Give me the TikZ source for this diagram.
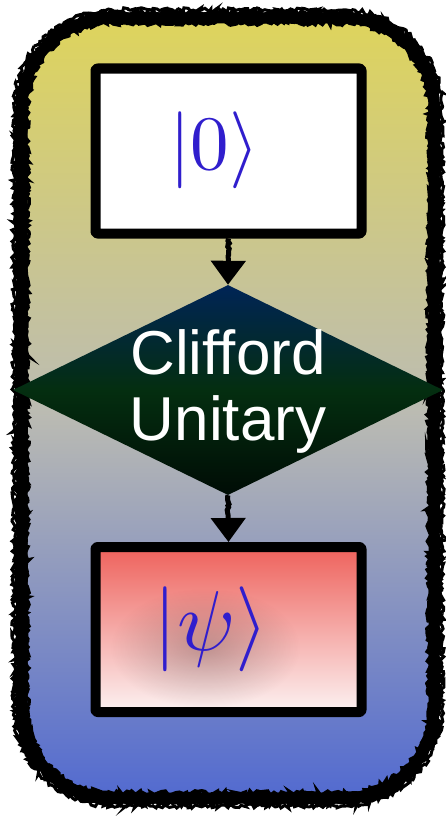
\documentclass[tikz,border=0pt]{standalone}
\usepackage{fontspec}
\setsansfont{Liberation Sans}
\usetikzlibrary{shapes.geometric,arrows.meta,decorations.pathmorphing,fadings}
\definecolor{bgtop}{RGB}{222,212,92}
\definecolor{bgmid}{RGB}{188,188,178}
\definecolor{bgbot}{RGB}{82,106,208}
\definecolor{dmtop}{RGB}{0,36,86}
\definecolor{dmmid}{RGB}{4,46,16}
\definecolor{dmbot}{RGB}{0,12,5}
\definecolor{pstop}{RGB}{238,98,92}
\definecolor{psbot}{RGB}{252,242,242}
\definecolor{ketblue}{RGB}{48,30,205}
\tikzfading[name=softspot,inner color=transparent!0,outer color=transparent!100]
\newcommand\panelpath[1]{(112,18+#1) -- (344,18+#1)
  .. controls (393.7-0.45*#1,18+#1) and (434-#1,58.3+0.45*#1) .. (434-#1,108)
  -- (434-#1,708)
  .. controls (434-#1,757.7-0.45*#1) and (393.7-0.45*#1,798-#1) .. (344,798-#1)
  -- (112,798-#1)
  .. controls (62.3+0.45*#1,798-#1) and (22+#1,757.7-0.45*#1) .. (22+#1,708)
  -- (22+#1,108)
  .. controls (22+#1,58.3+0.45*#1) and (62.3+0.45*#1,18+#1) .. (112,18+#1) -- cycle}
\begin{document}
\begin{tikzpicture}[x=1pt,y=-1pt,
  rough/.style={decorate,decoration={random steps,segment length=2.5pt,amplitude=2.2pt}},
  statebox/.style={draw=black,line width=10pt,line join=round,rounded corners=2pt,
    minimum width=266pt,minimum height=165pt,inner sep=0pt,text=ketblue},
  gate/.style={diamond,draw=none,inner sep=0pt,minimum width=430pt,minimum height=210pt,
    top color=dmtop,bottom color=dmbot,middle color=dmmid},
  gatetext/.style={text=white,align=center,font=\sffamily\fontsize{62}{66}\selectfont},
  flow/.style={line width=5pt,black,-{Triangle[width=34pt,length=24pt]},
    decorate,decoration={random steps,segment length=2pt,amplitude=1pt,post=lineto,post length=26pt}}
]
\useasboundingbox (0,0) rectangle (446,816);
\fill[white] (0,0) rectangle (446,816);
% background panel
\shade[top color=bgtop,bottom color=bgbot,middle color=bgmid] \panelpath{0};
\draw[line width=11pt] \panelpath{0};
\pgfmathsetseed{3}
\draw[rough,line width=4pt] \panelpath{-5};
\draw[rough,line width=3.5pt] \panelpath{5};
\draw[rough,line width=3pt] \panelpath{-8};

% nodes
\node[statebox,fill=white] (zero) at (228.5,151) {};
\node[text=ketblue] (zerol) at ([xshift=-14pt,yshift=1pt]zero.center) {\scalebox{7.7}{$|0\rangle$}};
\node[gate] (cliff) at (228,390) {};
\node[gatetext] (cliffl) at (228,391) {Clifford\\Unitary};
\node[statebox,top color=pstop,bottom color=psbot] (psi) at (228.5,629.5) {};
\fill[black,fill opacity=0.22,path fading=softspot]
  (205,648) ellipse (95pt and 60pt);
\node[text=ketblue] (psil) at ([xshift=-17pt]psi.center) {\scalebox{8.5}{$|\psi\rangle$}};

% connectors
\draw[flow] (zero.south) -- (cliff.north);
\draw[flow] (cliff.south) -- (psi.north);
\end{tikzpicture}
\end{document}
